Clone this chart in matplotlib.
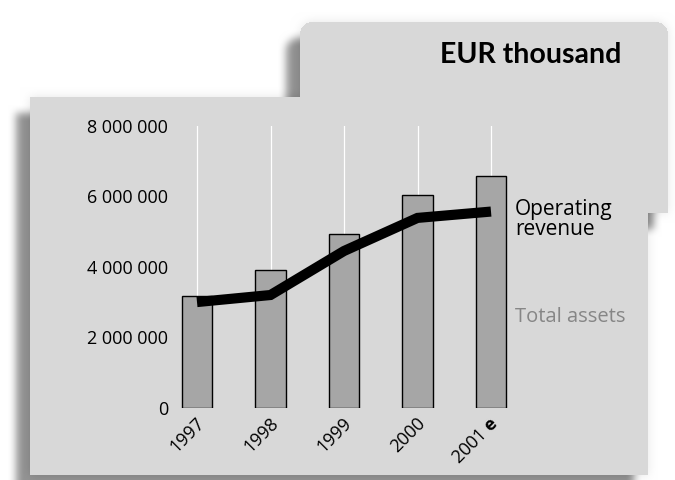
import numpy as np
import matplotlib
matplotlib.use("Agg")
import matplotlib.pyplot as plt
from matplotlib.ticker import FuncFormatter
from matplotlib.transforms import ScaledTranslation

# ---------------- data ----------------
years = ["1997", "1998", "1999", "2000", r"2001 $\mathbf{e}$"]
total_assets = [3170000, 3910000, 4930000, 6030000, 6570000]
operating_revenue = [3000000, 3200000, 4450000, 5390000, 5570000]
yticks = [0, 2000000, 4000000, 6000000, 8000000]

plt.rcParams["font.family"] = ["Open Sans", "DejaVu Sans"]
plt.rcParams["mathtext.fontset"] = "custom"
plt.rcParams["mathtext.rm"] = "Open Sans"
plt.rcParams["mathtext.bf"] = "Open Sans:bold"

W, H = 675, 480
fig = plt.figure(figsize=(W / 100, H / 100), dpi=100)
fig.patch.set_facecolor("white")

# ---------------- background panels with soft shadows ----------------
def box_blur(a, r):
    for axis in (0, 1):
        pad = [(0, 0), (0, 0)]
        pad[axis] = (r + 1, r)
        p = np.pad(a, pad, mode="edge")
        c = np.cumsum(p, axis=axis)
        if axis == 0:
            a = (c[2 * r + 1:, :] - c[:-2 * r - 1, :]) / (2 * r + 1)
        else:
            a = (c[:, 2 * r + 1:] - c[:, :-2 * r - 1]) / (2 * r + 1)
    return a

yy, xx = np.mgrid[0:H, 0:W] + 0.5

def rect_mask(x0, x1, y0, y1, rad=0.0):
    m = (xx >= x0) & (xx <= x1) & (yy >= y0) & (yy <= y1)
    if rad > 0:
        for cx, cy in ((x1 - rad, y0 + rad), (x0 + rad, y0 + rad)):
            corner = ((xx > cx) if cx > (x0 + x1) / 2 else (xx < cx)) & (yy < cy)
            out = corner & ((xx - cx) ** 2 + (yy - cy) ** 2 > rad ** 2)
            m &= ~out
    return m.astype(float)

def panels(dx=0, dy=0):
    main = rect_mask(30 + dx, 648 + dx, 97 + dy, 475 + dy)
    tab = rect_mask(300 + dx, 668 + dx, 22 + dy, 213 + dy, rad=12)
    return np.maximum(main, tab)

base = panels()
sh1 = box_blur(box_blur(panels(-14, 16), 4), 4)
sh2 = box_blur(box_blur(base, 5), 5)
shade = np.clip(0.42 * sh1 + 0.10 * sh2, 0, 1)
bgval = 1.0 - shade
panel_col = 0.85
img = np.where(base > 0.5, panel_col, bgval)
img = np.dstack([img, img, img])

bg = fig.add_axes([0, 0, 1, 1], zorder=0)
bg.imshow(img, extent=(0, W, H, 0), interpolation="nearest")
bg.set_xlim(0, W)
bg.set_ylim(H, 0)
bg.axis("off")

# ---------------- main chart ----------------
px_left, px_right = 175, 560
px_top, px_bottom = 126, 407.7
ax = fig.add_axes([px_left / W, 1 - px_bottom / H,
                   (px_right - px_left) / W, (px_bottom - px_top) / H], zorder=1)
ax.patch.set_visible(False)

x = np.arange(len(years))
spacing = 73.5
ax.set_xlim((px_left - 197) / spacing, (px_right - 197) / spacing)
ax.set_ylim(0, 8000000)

ax.bar(x, total_assets, width=0.41, color="#a6a6a6", edgecolor="black",
       linewidth=1.0, zorder=2)
ax.plot(x, operating_revenue, color="black", linewidth=7.3,
        solid_capstyle="butt", solid_joinstyle="miter", zorder=3)

ax.set_axisbelow(True)
ax.grid(axis="x", color="white", linewidth=0.9)
ax.grid(axis="y", visible=False)
for s in ax.spines.values():
    s.set_visible(False)

ax.set_yticks(yticks)
ax.yaxis.set_major_formatter(FuncFormatter(lambda v, p: f"{int(v):,}".replace(",", " ")))
ax.tick_params(axis="y", length=0, pad=5, labelsize=13, labelcolor="black")
ax.set_xticks(x)
ax.set_xticklabels(years, rotation=45, ha="right", va="center",
                   rotation_mode="anchor", fontsize=13)
ax.tick_params(axis="x", length=0, pad=9)
for lab in ax.get_xticklabels():
    lab.set_transform(lab.get_transform() + ScaledTranslation(0.05, 0, fig.dpi_scale_trans))

# series labels
px_per_unit = (px_bottom - px_top) / 8000000
lx = (515 - 197) / spacing
ax.text(lx, (px_bottom - 215) / px_per_unit, "Operating",
        ha="left", va="baseline", fontsize=15, color="black")
ax.text(lx, (px_bottom - 235) / px_per_unit, "revenue",
        ha="left", va="baseline", fontsize=15, color="black")
ax.text(lx, (px_bottom - 321.7) / px_per_unit, "Total assets",
        ha="left", va="baseline", fontsize=14.5, color="#868686")

fig.text(621 / W, 1 - 62.7 / H, "EUR thousand", ha="right", va="baseline",
         fontsize=20.5, fontweight="bold", color="black", family=["Lato", "DejaVu Sans"])

fig.savefig("out.png", dpi=100)
